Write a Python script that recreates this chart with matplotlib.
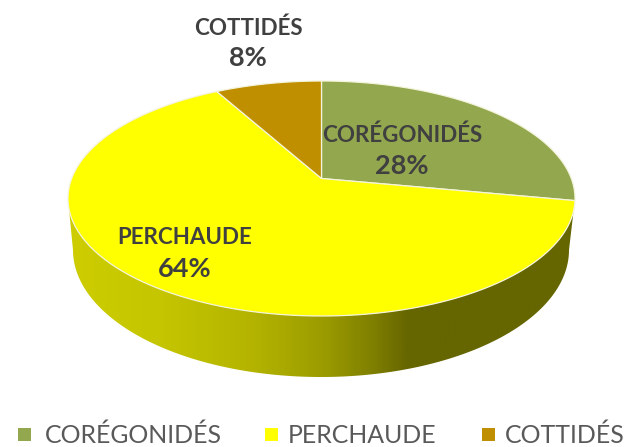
import numpy as np
import matplotlib
matplotlib.use('Agg')
import matplotlib.pyplot as plt
from matplotlib.colors import LinearSegmentedColormap
from matplotlib.patches import Polygon, Rectangle

categories = ['CORÉGONIDÉS', 'PERCHAUDE', 'COTTIDÉS']
values = [28, 64, 8]
colors = ['#93A84E', '#FFFF00', '#BF8F00']
percent_labels = ['28%', '64%', '8%']

# top face geometry, in pixels of the picture
CX, CY = 321.5, 198.5
RY = 117.5
APEX_DY = 20.0   # apex sits above the ellipse centre because of the perspective
PERSP = 2 * APEX_DY / (2 * RY)
RX = 253.5 * np.sqrt(1 - PERSP ** 2)

plt.rcParams['font.family'] = ['Lato', 'DejaVu Sans']


def project(r, ang):
    # ang is clockwise from the top of the pie
    x = r * np.sin(ang)
    y = r * np.cos(ang)
    w = 1 + PERSP * y
    return CX + RX * x / w, CY - (RY * y + APEX_DY) / w


fig = plt.figure(figsize=(6.28, 4.47), dpi=100)
ax = fig.add_axes([0, 0, 1, 1])

# side wall, only the front part shows
t = np.linspace(np.pi, 2 * np.pi, 200)
top_x = CX + 253.5 * np.cos(t)
top_y = CY - 117.5 * np.sin(t)
bot_x = 321.0 + 248 * np.cos(t)
bot_y = 250.0 - 127 * np.sin(t)
side = np.column_stack([np.r_[top_x, bot_x[::-1]], np.r_[top_y, bot_y[::-1]]])
side_patch = Polygon(side, closed=True, facecolor='none', edgecolor='none')
ax.add_patch(side_patch)

stops = [(0.0, '#CDCD00'), (0.17, '#C6C600'), (0.36, '#B4B400'), (0.5, '#9C9C00'),
         (0.6, '#808000'), (0.67, '#666600'), (1.0, '#666600')]
side_cmap = LinearSegmentedColormap.from_list('side', stops)
grad = ax.imshow(np.linspace(0, 1, 512).reshape(1, -1), cmap=side_cmap, aspect='auto',
                 extent=[68, 575, 380, 190], zorder=1)
grad.set_clip_path(side_patch)

# top face
edges = np.cumsum([0] + values) / sum(values) * 2 * np.pi
for i in range(len(values)):
    ang = np.linspace(edges[i], edges[i + 1], 150)
    rim_x, rim_y = project(1.0, ang)
    apex_x, apex_y = project(0.0, 0.0)
    ax.fill(np.r_[apex_x, rim_x], np.r_[apex_y, rim_y], facecolor=colors[i],
            edgecolor='#F4F4DC', linewidth=0.9, zorder=2)

# data labels
label_pos = [(402, 135, 166), (185, 238, 269), (248, 28, 58)]
for i, (x, y1, y2) in enumerate(label_pos):
    ax.text(x, y1, categories[i], ha='center', va='center', fontsize=16.1,
            fontweight='bold', color='#404040', zorder=3)
    ax.text(x, y2, percent_labels[i], ha='center', va='center', fontsize=19.5,
            fontweight='bold', color='#404040', zorder=3)

# legend
legend_x = [18, 265, 482]
legend_text_x = [45, 288, 505]
for i in range(len(categories)):
    ax.add_patch(Rectangle((legend_x[i], 428), 13, 13, facecolor=colors[i], edgecolor='none'))
    ax.text(legend_text_x[i], 443, categories[i], ha='left', va='baseline', fontsize=17.9,
            color='#595959')

ax.set_xlim(0, 628)
ax.set_ylim(447, 0)
ax.axis('off')

fig.savefig('out.png', dpi=100, facecolor='white')
plt.close(fig)
